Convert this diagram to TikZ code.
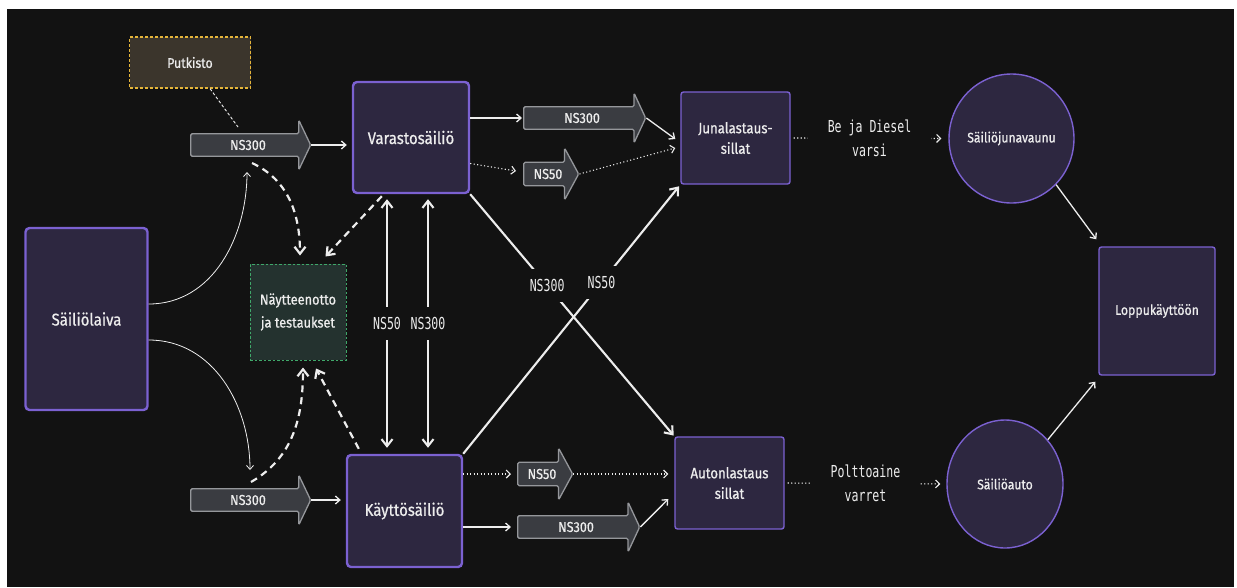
\documentclass[tikz,border=0pt]{standalone}
\usepackage{fontspec}
\setmainfont{Fira Sans}[FakeStretch=0.88,FakeBold=0.7]
\newfontfamily\monofam{DejaVu Sans Mono}[FakeStretch=0.7]
\usetikzlibrary{arrows.meta,shapes.arrows,shapes.geometric,calc}
\definecolor{bgc}{HTML}{121212}
\definecolor{boxfill}{HTML}{2D2740}
\definecolor{boxline}{HTML}{7B61D1}
\definecolor{blkfill}{HTML}{3A3C41}
\definecolor{blkline}{HTML}{95979B}
\definecolor{pfill}{HTML}{3B352C}
\definecolor{pline}{HTML}{E5B53A}
\definecolor{nfill}{HTML}{24322F}
\definecolor{nline}{HTML}{3FA86A}
\definecolor{ink}{HTML}{EDEDED}
\newcommand\fbig{\fontsize{17}{20}\selectfont}
\newcommand\fnay{\fontsize{14.5}{23}\selectfont}
\newcommand\fblk{\fontsize{14.3}{18}\selectfont}
\newcommand\fload{\fontsize{15}{20.5}\selectfont}
\newcommand\fputk{\fontsize{14}{18}\selectfont}
\newcommand\fdisc{\fontsize{13.8}{18}\selectfont}
\newcommand\flopp{\fontsize{14}{18}\selectfont}
\newcommand\fmono{\monofam\fontsize{16.5}{23.5}\selectfont}
\begin{document}
\begin{tikzpicture}[x=1pt,y=-1pt,
  tank/.style={draw=boxline, line width=2.4pt, fill=boxfill, rounded corners=4pt, text=ink, align=center, inner sep=0pt, font=\fbig},
  slim/.style={tank, line width=1.4pt, rounded corners=2.5pt, font=\fload},
  disc/.style={ellipse, draw=boxline, line width=1.4pt, fill=boxfill, text=ink, inner sep=0pt, font=\fdisc},
  blk/.style={single arrow, draw=blkline, line width=1.3pt, fill=blkfill, text=ink, rounded corners=1.5pt, inner sep=0pt, anchor=tail, font=\fblk, single arrow head extend=7pt},
  wire/.style={draw=ink, line width=1.3pt, -{Straight Barb[length=4.5pt,width=8pt]}},
  fine/.style={draw=ink, line width=0.8pt, -{Straight Barb[length=4pt,width=7pt]}},
  heavy/.style={draw=ink, line width=2.1pt, -{Straight Barb[length=7pt,width=11pt]}},
  both/.style={heavy, {Straight Barb[length=7pt,width=11pt]}-{Straight Barb[length=7pt,width=11pt]}},
  dots/.style={draw=ink, line width=1.1pt, dash pattern=on 1.1pt off 2.4pt, -{Straight Barb[length=4pt,width=8pt]}},
  sample/.style={draw=ink, line width=2.2pt, dash pattern=on 7pt off 5pt, -{Straight Barb[length=7pt,width=11pt]}},
  hair/.style={draw=ink, line width=0.9pt, dash pattern=on 3pt off 2pt},
  mlab/.style={fill=bgc, text=ink, font=\fmono, inner xsep=3pt, inner ysep=10pt},
  wlab/.style={fill=bgc, text=ink, font=\fmono, align=center, inner xsep=20pt, inner ysep=2pt},
]
\fill[white] (0,0) rectangle (1237,587);
\fill[bgc] (7,9) rectangle (1234,587);
\useasboundingbox (0,0) rectangle (1237,587);

% nodes
\node[draw=pline, fill=pfill, line width=1.2pt, dash pattern=on 3pt off 2pt, minimum width=121pt, minimum height=51pt, text=ink, font=\fputk, inner sep=0pt] (putk) at (190,62.5) {Putkisto};
\node[tank, minimum width=122pt, minimum height=182pt] (laiva) at (86.5,319) {Säiliölaiva};
\node[tank, minimum width=116pt, minimum height=111pt] (varasto) at (411,137.5) {Varastosäiliö};
\node[tank, minimum width=115pt, minimum height=112pt] (kaytto) at (404.5,511) {Käyttösäiliö};
\node[draw=nline, fill=nfill, line width=1pt, dash pattern=on 2.5pt off 2pt, minimum width=96pt, minimum height=96pt, text=ink, font=\fnay, align=center, inner sep=0pt] (nayte) at (298,312) {Näytteenotto\\ja testaukset};
\node[slim, minimum width=109pt, minimum height=92pt] (juna) at (735.5,138) {Junalastaus-\\sillat};
\node[slim, minimum width=109pt, minimum height=92pt] (auton) at (729.5,483) {Autonlastaus\\sillat};
\node[slim, minimum width=116pt, minimum height=128pt, font=\flopp] (lopp) at (1157,311) {Loppukäyttöön};
\node[disc, minimum width=115pt, minimum height=129pt] (sjv) at (1011.5,138.5) {Säiliöjunavaunu};
\node[disc, minimum width=116pt, minimum height=128pt] (sauto) at (1005,484) {Säiliöauto};

\node[blk, minimum height=120pt, minimum width=50pt, single arrow tip angle=129] (nsA) at (190,145) {NS300};
\node[blk, minimum height=120pt, minimum width=50pt, single arrow tip angle=129] (nsB) at (190,500) {NS300};
\node[blk, minimum height=122pt, minimum width=50pt, single arrow tip angle=130] (nsC) at (523,118) {NS300};
\node[blk, minimum height=55pt, minimum width=52pt, single arrow tip angle=123] (nsD) at (523,174) {NS50};
\node[blk, minimum height=55pt, minimum width=52pt, single arrow tip angle=123] (nsE) at (517,474) {NS50};
\node[blk, minimum height=122pt, minimum width=50pt, single arrow tip angle=130] (nsF) at (517,527) {NS300};

% connectors
\draw[hair] ($(putk.south)+(20,0)$) -- ($(nsA.tail)+(48,-18)$);
\draw[wire, shorten >=5pt] (nsA.tip) -- (nsA.tip -| varasto.west);
\draw[wire, shorten >=5pt] (nsB.tip) -- (nsB.tip -| kaytto.west);
\draw[fine] ($(laiva.east)+(0,-15)$) to[out=0,in=-90] ($(nsA.tail)+(57,27)$);
\draw[fine] ($(laiva.east)+(0,21)$) to[out=0,in=90] ($(nsB.tail)+(60,-30)$);
\draw[sample] ($(nsA.tail)+(62,18)$) to[out=-25,in=90] ($(nayte.north)+(2,-8)$);
\draw[sample] ($(varasto.south west)+(30,2)$) -- ($(nayte.north east)+(-21,-7)$);
\draw[sample] ($(nsB.tail)+(61,-18)$) to[out=30,in=-90] ($(nayte.south)+(5,7)$);
\draw[sample] ($(kaytto.north west)+(13,-5)$) -- ($(nayte.south)+(18,8)$);

\draw[wire, shorten >=1pt] (varasto.east |- nsC.tail) -- (nsC.tail);
\draw[dots] ($(varasto.east)+(0,26)$) -- ($(nsD.tail)+(-7,-3)$);
\draw[wire] (nsC.tip) -- ($(juna.west)+(-5,1)$);
\draw[dots] (nsD.tip) -- ($(juna.west)+(-5,10)$);
\draw[dots, shorten <=3pt, shorten >=7pt] (juna.east) -- node[wlab]{Be ja Diesel\\varsi} (sjv.west);
\draw[wire] (sjv.-46) -- ($(lopp.north west)+(-2,-7)$);
\draw[wire] (sauto.46) -- ($(lopp.south west)+(-3,6)$);
\draw[dots, shorten <=3pt, shorten >=6pt] (auton.east) -- node[wlab]{Polttoaine\\varret} (sauto.west);
\draw[dots, shorten >=6pt] (kaytto.east |- nsE.tail) -- (nsE.tail);
\draw[wire, shorten >=6pt] (kaytto.east |- nsF.tail) -- (nsF.tail);
\draw[dots, shorten >=6pt] (nsE.tip) -- (nsE.tip -| auton.west);
\draw[wire] (nsF.tip) -- ($(auton.west)+(-6,16)$);

\draw[both] ($(varasto.south)+(-24,5)$) -- node[mlab]{NS50} ($(kaytto.north)+(-17.5,-6)$);
\draw[both] ($(varasto.south)+(17,5)$) -- node[mlab]{NS300} ($(kaytto.north)+(23.5,-6)$);
\draw[heavy, shorten >=1pt] (varasto.south east) -- node[mlab,pos=0.377]{NS300} (auton.north west);
\draw[heavy, shorten >=2pt] (kaytto.north east) -- node[mlab,pos=0.637]{NS50} (juna.south west);
\end{tikzpicture}
\end{document}
